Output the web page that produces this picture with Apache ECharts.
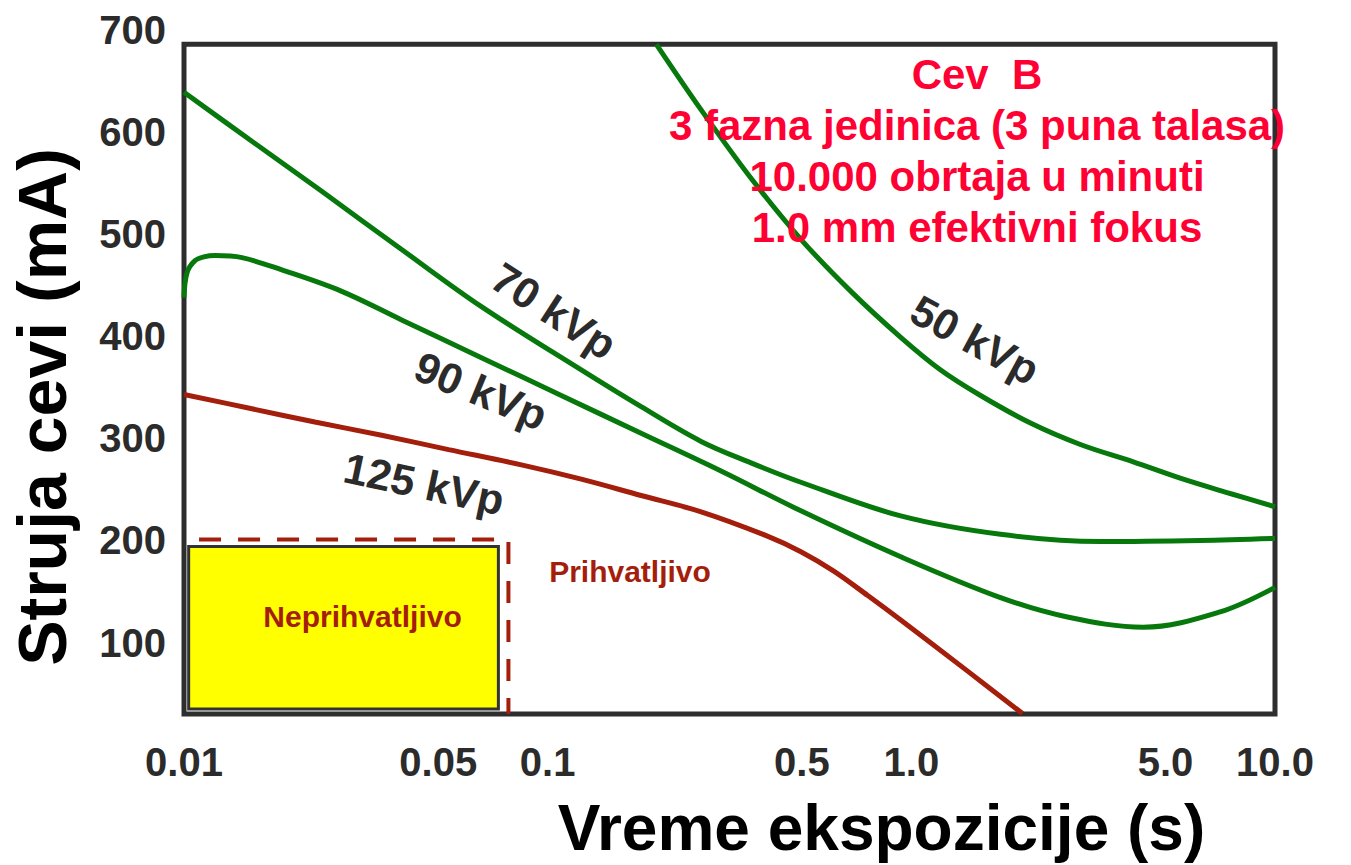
<!DOCTYPE html>
<html>
<head>
<meta charset="utf-8">
<script src="https://cdn.jsdelivr.net/npm/echarts@6/dist/echarts.min.js"></script>
<style>
html,body{margin:0;padding:0;background:#fff;}
#chart{width:1351px;height:865px;}
</style>
</head>
<body>
<div id="chart"></div>
<script>
// ---- axis ticks ----
const xTickValues = [0.01, 0.05, 0.1, 0.5, 1, 5, 10];
const xTickLabels = ['0.01', '0.05', '0.1', '0.5', '1.0', '5.0', '10.0'];
const yTickValues = [100, 200, 300, 400, 500, 600, 700];
const yTickLabels = ['100', '200', '300', '400', '500', '600', '700'];

// ---- curves: exposure time (s) vs tube current (mA) ----
const kvp50Time    = [0.199, 0.264, 0.362, 0.497, 0.682, 0.935, 1.204, 1.55, 2.126, 2.916, 4.077, 5.486, 7.525, 10];
const kvp50Current = [686, 622, 555, 495, 444, 399, 367, 342, 315, 294, 277, 261, 246, 233];

const kvp70Time    = [0.01, 0.01537, 0.02392, 0.03967, 0.06575, 0.1237, 0.1807, 0.2642, 0.3623, 0.4969, 0.935, 1.759, 3.309, 6.226, 10];
const kvp70Current = [639, 591, 542, 485, 429, 367, 331, 297, 276, 257, 224, 206, 199, 200, 202];

const kvp90Time    = [0.01, 0.01019, 0.01072, 0.01142, 0.01216, 0.01443, 0.01858, 0.02715, 0.03967, 0.06575, 0.109, 0.1807, 0.2997, 0.4969, 0.935, 1.759, 2.687, 4.342, 7.063, 10];
const kvp90Current = [438, 462, 474, 478, 479, 477, 465, 444, 416, 379, 342, 305, 268, 229, 184, 144, 125, 115, 130, 154];

const kvp125Time    = [0.01, 0.01537, 0.0229, 0.03496, 0.05339, 0.08468, 0.1237, 0.1807, 0.2642, 0.4034, 0.4969, 0.612, 0.759, 0.935, 1.428, 2.021];
const kvp125Current = [343, 329, 316, 303, 289, 274, 260, 244, 228, 204, 189, 170, 146, 122, 72, 30.5];

// ---- regions ----
const unacceptableTime    = [0.0103, 0.0732];
const unacceptableCurrent = [35, 194];
const limitTime    = [0.011, 0.078, 0.078];
const limitCurrent = [201, 201, 30];
const frameTime    = [0.01, 10];
const frameCurrent = [30, 686];
const curveNames = ['50 kVp', '70 kVp', '90 kVp', '125 kVp'];
const infoLines = ['Cev  B', '3 fazna jedinica (3 puna talasa)', '10.000 obrtaja u minuti', '1.0 mm efektivni fokus'];

const FONT = '"Liberation Sans", Arial, Helvetica, sans-serif';
const GREEN = '#07780c';
const RED = '#a41e0c';
const DARK = '#2b2b2b';

function zip(xs, ys) { return xs.map((x, i) => [x, ys[i]]); }
function nearestLabel(v, vals, labels) {
  let best = 0, bd = Infinity;
  vals.forEach((t, i) => { const d = Math.abs(Math.log10(t) - Math.log10(v)); if (d < bd) { bd = d; best = i; } });
  return labels[best];
}

const chart = echarts.init(document.getElementById('chart'), null, { renderer: 'svg' });

function curve(name, xs, ys, color) {
  return {
    name: name, type: 'line', data: zip(xs, ys), smooth: 0.35,
    showSymbol: false, symbol: 'none', clip: false, silent: true, z: 5,
    lineStyle: { color: color, width: 5 }
  };
}

const rotLabel = (text, x, y, deg) => ({
  type: 'text', x: x, y: y, rotation: -deg * Math.PI / 180, z: 50,
  style: { text: text, x: 0, y: 0, align: 'center', verticalAlign: 'middle',
           fill: DARK, font: 'bold 43px ' + FONT }
});

chart.setOption({
  animation: false,
  backgroundColor: '#ffffff',
  grid: { left: 182, right: 76, top: 30, bottom: 150, containLabel: false },
  xAxis: {
    type: 'log', logBase: 10, min: 0.01, max: 10,
    name: 'Vreme ekspozicije (s)', nameLocation: 'middle', nameGap: 82,
    nameTextStyle: { fontFamily: FONT, fontWeight: 'bold', fontSize: 64, color: '#000', padding: [0, 0, 0, 304] },
    axisLine: { show: false }, axisTick: { show: false }, splitLine: { show: false },
    axisLabel: {
      customValues: xTickValues, margin: 28,
      fontFamily: FONT, fontWeight: 'bold', fontSize: 40, color: DARK,
      formatter: v => nearestLabel(v, xTickValues, xTickLabels)
    }
  },
  yAxis: {
    type: 'value', min: 30, max: 700,
    name: 'Struja cevi (mA)', nameLocation: 'middle', nameGap: 108, nameRotate: 90,
    nameTextStyle: { fontFamily: FONT, fontWeight: 'bold', fontSize: 68, color: '#000', padding: [0, 70, 0, 0] },
    axisLine: { show: false }, axisTick: { show: false }, splitLine: { show: false },
    axisLabel: {
      customValues: yTickValues, margin: 18,
      fontFamily: FONT, fontWeight: 'bold', fontSize: 40, color: DARK,
      formatter: v => yTickLabels[yTickValues.indexOf(Math.round(v))] || String(v)
    }
  },
  series: [
    {
      name: 'granica', type: 'line', data: zip(limitTime, limitCurrent), showSymbol: false, symbol: 'none',
      clip: false, silent: true, z: 3,
      lineStyle: { color: RED, width: 4, type: [22, 17] },
      markArea: {
        silent: true,
        data: [
          [
            { coord: [unacceptableTime[0], unacceptableCurrent[1]],
              itemStyle: { color: '#ffff00', borderColor: '#333333', borderWidth: 3 },
              label: { show: true, position: 'inside', formatter: 'Neprihvatljivo', offset: [19, -11],
                       color: RED, fontFamily: FONT, fontWeight: 'bold', fontSize: 30 } },
            { coord: [unacceptableTime[1], unacceptableCurrent[0]] }
          ],
          [
            { coord: [frameTime[0], frameCurrent[1]],
              itemStyle: { color: 'rgba(0,0,0,0)', borderColor: '#2e2e2e', borderWidth: 5 },
              label: { show: false } },
            { coord: [frameTime[1], frameCurrent[0]] }
          ]
        ]
      }
    },
    curve(curveNames[0], kvp50Time, kvp50Current, GREEN),
    curve(curveNames[1], kvp70Time, kvp70Current, GREEN),
    curve(curveNames[2], kvp90Time, kvp90Current, GREEN),
    curve(curveNames[3], kvp125Time, kvp125Current, RED)
  ],
  graphic: [
    {
      type: 'text', x: 977, y: 49, z: 100,
      style: { text: infoLines.join('\n'), align: 'center', verticalAlign: 'top', lineHeight: 51,
               fill: '#ff0033', font: 'bold 42px ' + FONT }
    },
    {
      type: 'text', x: 630, y: 571, z: 100,
      style: { text: 'Prihvatljivo', align: 'center', verticalAlign: 'middle',
               fill: RED, font: 'bold 30px ' + FONT }
    },
    rotLabel(curveNames[0], 975, 340, 28.5),
    rotLabel(curveNames[1], 554, 311, 33),
    rotLabel(curveNames[2], 481, 391, 22.5),
    rotLabel(curveNames[3], 424, 484, 12)
  ]
});
</script>
</body>
</html>
